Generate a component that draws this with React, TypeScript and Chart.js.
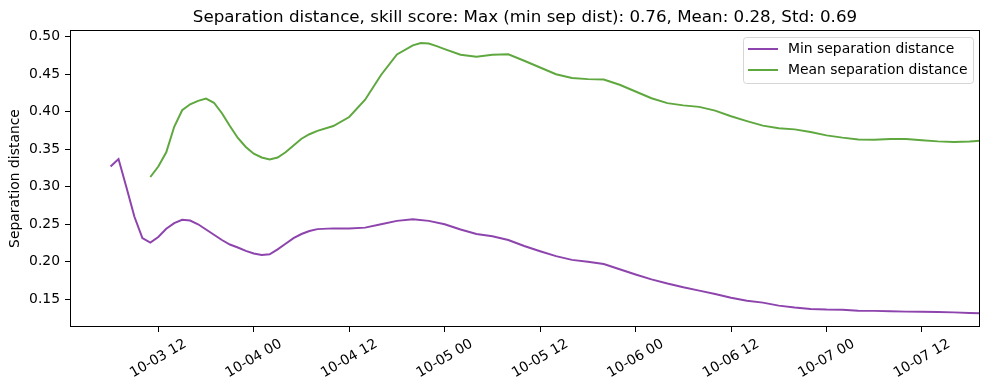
import React, { useEffect, useRef } from "react";
import { Chart, registerables } from "chart.js";

Chart.register(...registerables);

const FONT = "'DejaVu Sans', 'Liberation Sans', sans-serif";
const TITLE = "Separation distance, skill score: Max (min sep dist): 0.76, Mean: 0.28, Std: 0.69";
const Y_LABEL = "Separation distance";
const SERIES_NAMES = ["Min separation distance", "Mean separation distance"];
const COLORS = ["#8e44ad", "#5fa83f"];

// hours since 10-03 00:00
const minHours = [6, 7, 8, 9, 10, 11, 12, 13, 14, 15, 16, 17, 18, 19, 20, 21, 22, 23, 24, 25, 26, 27, 28, 29, 30, 31, 32, 34, 36, 38, 40, 42, 44, 46, 48, 50, 52, 54, 56, 58, 60, 62, 64, 66, 68, 70, 72, 74, 76, 78, 80, 82, 84, 86, 88, 90, 92, 94, 96, 98, 100, 102, 104, 106, 108, 110, 112, 114, 116];
const minValues = [0.327, 0.337, 0.299, 0.26, 0.2315, 0.2256, 0.233, 0.244, 0.2515, 0.256, 0.255, 0.25, 0.243, 0.236, 0.229, 0.223, 0.219, 0.2145, 0.211, 0.209, 0.21, 0.2165, 0.224, 0.2315, 0.237, 0.241, 0.2435, 0.2445, 0.2445, 0.2455, 0.25, 0.2545, 0.2565, 0.2545, 0.25, 0.243, 0.237, 0.234, 0.229, 0.221, 0.214, 0.2075, 0.2025, 0.2, 0.197, 0.19, 0.183, 0.1765, 0.171, 0.166, 0.1615, 0.157, 0.152, 0.148, 0.1455, 0.1415, 0.139, 0.137, 0.1362, 0.136, 0.1348, 0.1345, 0.134, 0.1335, 0.1333, 0.133, 0.1325, 0.1318, 0.131];

const meanHours = [11, 12, 13, 14, 15, 16, 17, 18, 19, 20, 21, 22, 23, 24, 25, 26, 27, 28, 29, 30, 31, 32, 34, 36, 38, 40, 42, 44, 45, 46, 47, 48, 50, 52, 54, 56, 58, 60, 62, 64, 66, 68, 70, 72, 74, 76, 78, 80, 82, 84, 86, 88, 90, 92, 94, 96, 98, 100, 102, 104, 106, 108, 110, 112, 114, 116];
const meanValues = [0.313, 0.327, 0.346, 0.38, 0.402, 0.41, 0.4145, 0.4175, 0.412, 0.398, 0.381, 0.365, 0.353, 0.344, 0.339, 0.3365, 0.339, 0.346, 0.355, 0.364, 0.37, 0.3745, 0.381, 0.393, 0.416, 0.449, 0.4764, 0.4885, 0.4915, 0.491, 0.4875, 0.4835, 0.476, 0.4735, 0.476, 0.4765, 0.468, 0.459, 0.45, 0.445, 0.4435, 0.443, 0.436, 0.427, 0.418, 0.4115, 0.4085, 0.4065, 0.4015, 0.394, 0.3875, 0.3815, 0.378, 0.3765, 0.373, 0.3685, 0.3655, 0.363, 0.3628, 0.3638, 0.3638, 0.362, 0.3605, 0.3597, 0.3603, 0.362];

const xTickHours = [12, 24, 36, 48, 60, 72, 84, 96, 108];
const xTickLabels = ["10-03 12", "10-04 00", "10-04 12", "10-05 00", "10-05 12", "10-06 00", "10-06 12", "10-07 00", "10-07 12"];
const yTicks = [0.15, 0.2, 0.25, 0.3, 0.35, 0.4, 0.45, 0.5];
const X_MIN = 0.9;
const X_MAX = 115.3;
const Y_MIN = 0.113;
const Y_MAX = 0.509;

const TICK_SIZE = 13.9;
const TITLE_SIZE = 16.7;

const decorPlugin = {
  id: "decor",
  afterDraw(chart: any) {
    const { ctx, chartArea: a, scales } = chart;
    ctx.save();
    // frame
    ctx.strokeStyle = "#000";
    ctx.lineWidth = 1;
    const l = Math.round(a.left) + 0.5;
    const t = Math.round(a.top) + 0.5;
    const r = Math.round(a.right) - 0.5;
    const b = Math.round(a.bottom) - 0.5;
    ctx.strokeRect(l, t, r - l, b - t);

    // title
    ctx.fillStyle = "#000";
    ctx.font = `${TITLE_SIZE}px ${FONT}`;
    ctx.textAlign = "center";
    ctx.textBaseline = "alphabetic";
    ctx.fillText(TITLE, (a.left + a.right) / 2, 22);

    // x tick labels, rotated 30deg, centred on tick
    ctx.font = `${TICK_SIZE}px ${FONT}`;
    const xs = scales.x;
    const ang = (30 * Math.PI) / 180;
    xTickHours.forEach((h, i) => {
      const px = xs.getPixelForValue(h);
      const label = xTickLabels[i];
      const w = ctx.measureText(label).width;
      const th = TICK_SIZE * 1.17;
      const bh = w * Math.sin(ang) + th * Math.cos(ang);
      const cy = a.bottom + 5 + 4 + bh / 2;
      ctx.save();
      ctx.translate(px, cy);
      ctx.rotate(-ang);
      ctx.textAlign = "center";
      ctx.textBaseline = "middle";
      ctx.fillText(label, 0, 0);
      ctx.restore();
    });

    // legend
    const lx = 743.5, ly = 37.5, lw = 230, lh = 46, rad = 3;
    ctx.beginPath();
    ctx.moveTo(lx + rad, ly);
    ctx.arcTo(lx + lw, ly, lx + lw, ly + lh, rad);
    ctx.arcTo(lx + lw, ly + lh, lx, ly + lh, rad);
    ctx.arcTo(lx, ly + lh, lx, ly, rad);
    ctx.arcTo(lx, ly, lx + lw, ly, rad);
    ctx.closePath();
    ctx.fillStyle = "rgba(255,255,255,0.8)";
    ctx.fill();
    ctx.strokeStyle = "#d6d6d6";
    ctx.lineWidth = 1;
    ctx.stroke();
    SERIES_NAMES.forEach((name, i) => {
      const y = 49 + i * 21;
      ctx.beginPath();
      ctx.moveTo(748, y);
      ctx.lineTo(778, y);
      ctx.strokeStyle = COLORS[i];
      ctx.lineWidth = 2;
      ctx.stroke();
      ctx.fillStyle = "#000";
      ctx.font = `${TICK_SIZE}px ${FONT}`;
      ctx.textAlign = "left";
      ctx.textBaseline = "middle";
      ctx.fillText(name, 788, y);
    });
    ctx.restore();
  },
};

export default function App() {
  const ref = useRef<HTMLCanvasElement | null>(null);
  useEffect(() => {
    if (!ref.current) return;
    const chart = new Chart(ref.current, {
      type: "line",
      data: {
        datasets: [
          {
            label: SERIES_NAMES[0],
            data: minHours.map((h, i) => ({ x: h, y: minValues[i] })),
            borderColor: COLORS[0],
            backgroundColor: COLORS[0],
            borderWidth: 2,
            pointRadius: 0,
            tension: 0,
          },
          {
            label: SERIES_NAMES[1],
            data: meanHours.map((h, i) => ({ x: h, y: meanValues[i] })),
            borderColor: COLORS[1],
            backgroundColor: COLORS[1],
            borderWidth: 2,
            pointRadius: 0,
            tension: 0,
          },
        ],
      },
      options: {
        animation: false,
        responsive: false,
        maintainAspectRatio: false,
        devicePixelRatio: 1,
        layout: { padding: { left: 0, top: 30, right: 9, bottom: 0 } },
        plugins: {
          legend: { display: false },
          title: { display: false },
          tooltip: { enabled: false },
        },
        scales: {
          x: {
            type: "linear",
            min: X_MIN,
            max: X_MAX,
            border: { display: false },
            grid: { display: true, drawOnChartArea: false, drawTicks: true, tickLength: 5, color: "#000" },
            ticks: { display: false },
            afterBuildTicks: (scale: any) => {
              scale.ticks = xTickHours.map((v) => ({ value: v }));
            },
            afterFit: (scale: any) => {
              scale.height = 63;
            },
          },
          y: {
            type: "linear",
            min: Y_MIN,
            max: Y_MAX,
            border: { display: false },
            grid: { display: true, drawOnChartArea: false, drawTicks: true, tickLength: 5, color: "#000" },
            ticks: {
              color: "#000",
              font: { family: FONT, size: TICK_SIZE },
              padding: 5,
              callback: (v: any) => Number(v).toFixed(2),
            },
            afterBuildTicks: (scale: any) => {
              scale.ticks = yTicks.map((v) => ({ value: v }));
            },
            afterFit: (scale: any) => {
              scale.width = 70;
            },
            title: {
              display: true,
              text: Y_LABEL,
              color: "#000",
              font: { family: FONT, size: TICK_SIZE },
              padding: { top: 7, bottom: 0 },
            },
          },
        },
      },
      plugins: [decorPlugin],
    });
    return () => chart.destroy();
  }, []);
  return (
    <div style={{ position: "fixed", left: 0, top: 0, width: 989, height: 390, background: "#fff" }}>
      <canvas ref={ref} width={989} height={390} style={{ display: "block", width: 989, height: 390 }} />
    </div>
  );
}
